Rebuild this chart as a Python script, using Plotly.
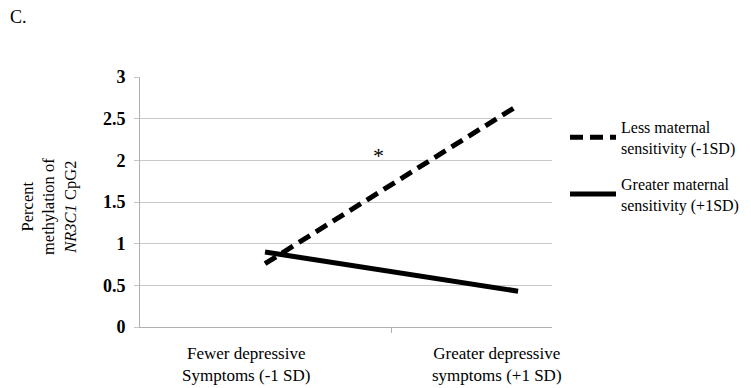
import plotly.graph_objects as go

# ---- data ----
categories = ["Fewer depressive<br>Symptoms (-1 SD)", "Greater depressive<br>symptoms (+1 SD)"]
x_index = [0, 1]
less_sensitivity = [0.76, 2.66]
greater_sensitivity = [0.90, 0.43]
series_names = ["Less maternal<br>sensitivity (-1SD)", "Greater maternal<br>sensitivity (+1SD)"]
y_ticks = [0, 0.5, 1, 1.5, 2, 2.5, 3]
y_tick_labels = ["0", "0.5", "1", "1.5", "2", "2.5", "3"]

SERIF = "Liberation Serif, Times New Roman, serif"

fig = go.Figure()
fig.add_trace(go.Scatter(
    x=x_index, y=less_sensitivity, mode="lines", name=series_names[0], legendgroup="a",
    line=dict(color="black", width=5, dash="13px,7px"), hoverinfo="skip"))
fig.add_trace(go.Scatter(
    x=x_index, y=greater_sensitivity, mode="lines", name=series_names[1], legendgroup="b",
    line=dict(color="black", width=5), hoverinfo="skip"))

annotations = []
# category labels under the axis
for xi, lab, sh in zip(x_index, categories, [-19, -21]):
    annotations.append(dict(x=xi, y=0, xref="x", yref="y", text=lab, showarrow=False,
                            xanchor="center", yanchor="top", yshift=-15, xshift=sh,
                            font=dict(family=SERIF, size=17, color="black")))
# significance marker
annotations.append(dict(x=0.447, y=2.09, xref="x", yref="y", text="*", showarrow=False,
                        xanchor="center", yanchor="middle", yshift=-3,
                        font=dict(family=SERIF, size=22, color="black")))
# panel label
annotations.append(dict(x=(8 - 140) / 412, y=(327 - 17) / 250, xref="paper", yref="paper",
                        text="C.", showarrow=False, xanchor="left", yanchor="middle",
                        font=dict(family=SERIF, size=18, color="black")))
# y-axis title
annotations.append(dict(x=(49 - 140) / 412, y=(327 - 207) / 250, xref="paper", yref="paper",
                        text="Percent<br>methylation of<br><i>NR3C1</i> CpG2",
                        textangle=-90, showarrow=False, xanchor="center", yanchor="middle",
                        font=dict(family=SERIF, size=16.5, color="black")))

fig.update_layout(
    width=751, height=388,
    margin=dict(l=140, r=199, t=77, b=61, autoexpand=False),
    paper_bgcolor="white", plot_bgcolor="white",
    showlegend=True,
    legend=dict(x=1 + 13 / 412, xanchor="left", y=(327 - 110) / 250, yanchor="top",
                font=dict(family=SERIF, size=16, color="black"),
                itemwidth=46, tracegroupgap=12, bgcolor="rgba(0,0,0,0)"),
    xaxis=dict(range=[-0.494, 1.134], showgrid=False, zeroline=False,
               showline=True, linecolor="#b0b0b0", linewidth=1,
               tickvals=[0.5], ticktext=[""], ticks="outside", ticklen=5,
               tickcolor="#b0b0b0", fixedrange=True),
    yaxis=dict(range=[0, 3], tickvals=y_ticks, ticktext=y_tick_labels,
               showgrid=True, gridcolor="#c8c8c8", gridwidth=1, zeroline=False,
               showline=True, linecolor="#b0b0b0", linewidth=1,
               ticks="outside", ticklen=5, tickcolor="#c8c8c8",
               tickfont=dict(family=SERIF, size=18, color="black", weight="bold"),
               ticklabelstandoff=5, fixedrange=True),
    annotations=annotations,
)

fig.write_html("out.html", config={"displayModeBar": False},
               post_script="document.body.style.margin='0';")
